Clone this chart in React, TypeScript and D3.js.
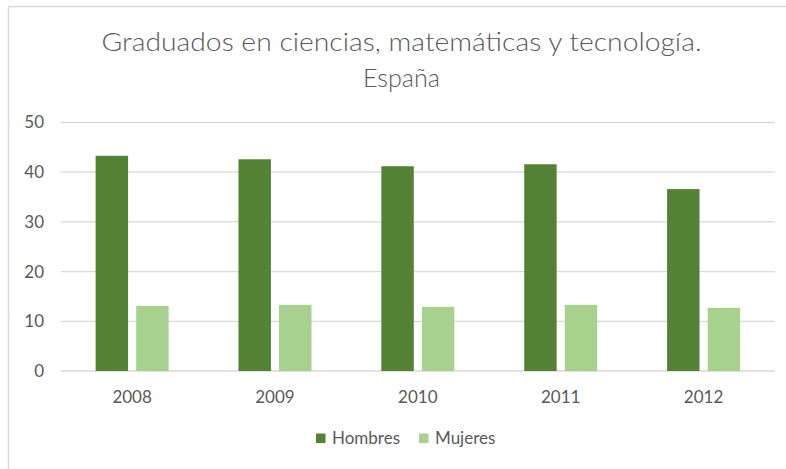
import React from "react";
import * as d3 from "d3";

const years = ["2008", "2009", "2010", "2011", "2012"];
const hombres = [43.3, 42.6, 41.2, 41.6, 36.6];
const mujeres = [13.1, 13.3, 12.9, 13.3, 12.7];
const seriesNames = ["Hombres", "Mujeres"];
const seriesColors = ["#548235", "#A9D18E"];
const yTicks = [0, 10, 20, 30, 40, 50];
const titleLines = ["Graduados en ciencias, matemáticas y tecnología.", "España"];

const W = 786;
const H = 469;
const FONT = "Lato, 'Open Sans', sans-serif";

export default function App() {
  const left = 60.7;
  const right = 775;
  const x0 = d3.scaleBand<string>().domain(years).range([left, right]).paddingInner(0.489).paddingOuter(0.2445);
  const x1 = d3.scaleBand<string>().domain(seriesNames).range([0, x0.bandwidth()]).paddingInner(0.2);
  const y = d3.scaleLinear().domain([0, 50]).range([371, 122.5]);
  const data = [hombres, mujeres];
  const titleLens = [600, 77];

  return (
    <svg width={W} height={H} style={{ position: "fixed", left: 0, top: 0 }}>
      <rect x={0} y={0} width={W} height={H} fill="#fff" />
      <line x1={8.5} y1={6.5} x2={W} y2={6.5} stroke="#d9d9d9" strokeWidth={1.5} />
      <line x1={8.5} y1={6.5} x2={8.5} y2={H} stroke="#d9d9d9" strokeWidth={1.5} />
      {titleLines.map((t, i) => (
        <text
          key={i}
          x={401.5}
          y={51 + i * 35.7}
          textAnchor="middle"
          fontFamily={FONT}
          fontSize={25.5}
          fontWeight={300}
          fill="#595959"
          textLength={titleLens[i]}
          lengthAdjust="spacingAndGlyphs"
        >
          {t}
        </text>
      ))}
      {yTicks.map((t) => (
        <g key={t}>
          <line x1={left} x2={right} y1={y(t)} y2={y(t)} stroke="#d9d9d9" strokeWidth={t === 0 ? 1.5 : 1.3} />
          <text x={44} y={y(t)} dy="0.35em" textAnchor="end" fontFamily={FONT} fontSize={17} fill="#595959">
            {t}
          </text>
        </g>
      ))}
      {years.map((yr, i) => (
        <g key={yr}>
          {seriesNames.map((s, j) => (
            <rect
              key={s}
              x={(x0(yr) as number) + (x1(s) as number)}
              y={y(data[j][i])}
              width={x1.bandwidth()}
              height={y(0) - y(data[j][i])}
              fill={seriesColors[j]}
            />
          ))}
          <text x={(x0(yr) as number) + x0.bandwidth() / 2} y={397} dy="0.35em" textAnchor="middle" fontFamily={FONT} fontSize={17} fill="#595959">
            {yr}
          </text>
        </g>
      ))}
      {seriesNames.map((s, j) => {
        const lx = [316, 419][j];
        return (
          <g key={s}>
            <rect x={lx} y={433.5} width={9.5} height={9.5} fill={seriesColors[j]} />
            <text x={lx + 16} y={438.5} dy="0.35em" fontFamily={FONT} fontSize={17} fill="#595959">
              {s}
            </text>
          </g>
        );
      })}
    </svg>
  );
}
